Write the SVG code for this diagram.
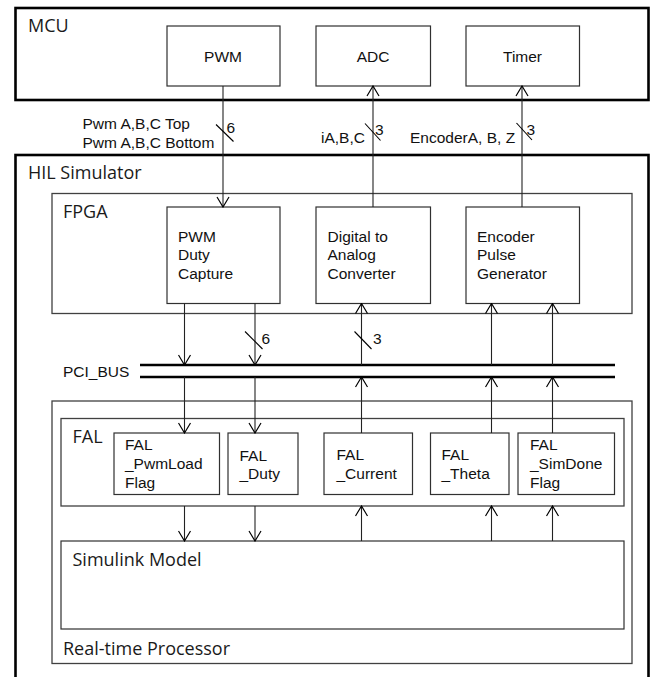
<svg xmlns="http://www.w3.org/2000/svg" width="653" height="677" viewBox="0 0 653 677">
<style>
.outer{fill:none;stroke:#000;stroke-width:2.6}
.cont{fill:none;stroke:#404040;stroke-width:1.3}
.box{fill:#fff;stroke:#303030;stroke-width:1.2}
.big{font-family:"Open Sans","Noto Sans",sans-serif;font-size:18px;fill:#1a1a1a}
.t{font-family:"Liberation Sans",Arial,sans-serif;font-size:15.5px;fill:#111}
.c{text-anchor:middle}
.ln{fill:none;stroke:#222;stroke-width:1.1}
.bus{fill:none;stroke:#000;stroke-width:2.6}
.sl{fill:none;stroke:#000;stroke-width:1.1}
</style>
<defs>
<marker id="arr" viewBox="0 0 12 14" refX="11" refY="7" markerWidth="12" markerHeight="14" markerUnits="userSpaceOnUse" orient="auto">
<path d="M1,1 L11,7 L1,13" fill="none" stroke="#000" stroke-width="1.2"/>
</marker>
</defs>
<rect width="653" height="677" fill="#fff"/>

<g id="mcu">
<rect class="outer" x="15.5" y="8" width="633" height="92"/>
<text class="big" x="28" y="32">MCU</text>
</g>
<g id="pwm">
<rect class="box" x="167" y="26" width="113" height="60"/>
<text class="t c" x="223" y="62">PWM</text>
</g>
<g id="adc">
<rect class="box" x="316" y="26" width="114.5" height="60"/>
<text class="t c" x="373" y="62">ADC</text>
</g>
<g id="timer">
<rect class="box" x="466" y="26" width="113.5" height="60"/>
<text class="t c" x="522.5" y="62">Timer</text>
</g>

<g id="hil">
<rect class="outer" x="15.5" y="155" width="633" height="540"/>
<text class="big" x="28" y="179">HIL Simulator</text>
</g>
<g id="fpga">
<rect class="cont" x="52" y="193.5" width="580" height="120"/>
<text class="big" x="63" y="218">FPGA</text>
</g>
<g id="pwm-duty-capture">
<rect class="box" x="167" y="207" width="113" height="96.5"/>
<text class="t" x="178" y="241.5">PWM</text>
<text class="t" x="178" y="260">Duty</text>
<text class="t" x="178" y="278.5">Capture</text>
</g>
<g id="dac">
<rect class="box" x="316" y="207" width="114.5" height="96.5"/>
<text class="t" x="327.5" y="241.5">Digital to</text>
<text class="t" x="327.5" y="260">Analog</text>
<text class="t" x="327.5" y="278.5">Converter</text>
</g>
<g id="encoder-pulse-generator">
<rect class="box" x="466" y="207" width="113.5" height="96.5"/>
<text class="t" x="477" y="241.5">Encoder</text>
<text class="t" x="477" y="260">Pulse</text>
<text class="t" x="477" y="278.5">Generator</text>
</g>

<g id="pci-bus">
<text class="t" x="63" y="377">PCI_BUS</text>
<line class="bus" x1="140" y1="365" x2="615" y2="365"/>
<line class="bus" x1="140" y1="377" x2="615" y2="377"/>
</g>

<g id="real-time-processor">
<rect class="cont" x="52" y="401" width="580" height="262.5"/>
<text class="big" x="63" y="655">Real-time Processor</text>
</g>
<g id="fal">
<rect class="cont" x="61" y="418.5" width="563" height="87.5"/>
<text class="big" x="72.5" y="443">FAL</text>
</g>
<g id="fal-pwmload-flag">
<rect class="box" x="114" y="433" width="105.5" height="61.5"/>
<text class="t" x="125" y="450">FAL</text>
<text class="t" x="125" y="469.3">_PwmLoad</text>
<text class="t" x="125" y="488.3">Flag</text>
</g>
<g id="fal-duty">
<rect class="box" x="228" y="433" width="70" height="61.5"/>
<text class="t" x="239.5" y="461">FAL</text>
<text class="t" x="239.5" y="478.5">_Duty</text>
</g>
<g id="fal-current">
<rect class="box" x="324" y="433" width="88.5" height="61.5"/>
<text class="t" x="336.5" y="460">FAL</text>
<text class="t" x="336.5" y="478.5">_Current</text>
</g>
<g id="fal-theta">
<rect class="box" x="430.5" y="433" width="78.5" height="61.5"/>
<text class="t" x="441.5" y="460">FAL</text>
<text class="t" x="441.5" y="478.5">_Theta</text>
</g>
<g id="fal-simdone-flag">
<rect class="box" x="518" y="433" width="96.5" height="61.5"/>
<text class="t" x="530" y="450">FAL</text>
<text class="t" x="530" y="469.3">_SimDone</text>
<text class="t" x="530" y="488.3">Flag</text>
</g>
<g id="simulink-model">
<rect class="box" x="61" y="541" width="563" height="88"/>
<text class="big" x="72.5" y="566">Simulink Model</text>
</g>

<g id="connectors">
<line class="ln" x1="223" y1="86" x2="223" y2="207" marker-end="url(#arr)"/>
<line class="ln" x1="373" y1="207" x2="373" y2="86" marker-end="url(#arr)"/>
<line class="ln" x1="522" y1="207" x2="522" y2="86" marker-end="url(#arr)"/>
<line class="ln" x1="184.5" y1="303.5" x2="184.5" y2="365" marker-end="url(#arr)"/>
<line class="ln" x1="255" y1="303.5" x2="255" y2="365" marker-end="url(#arr)"/>
<line class="ln" x1="361.5" y1="365" x2="361.5" y2="303.5" marker-end="url(#arr)"/>
<line class="ln" x1="491.5" y1="365" x2="491.5" y2="303.5" marker-end="url(#arr)"/>
<line class="ln" x1="552.5" y1="365" x2="552.5" y2="303.5" marker-end="url(#arr)"/>
<line class="ln" x1="184.5" y1="377" x2="184.5" y2="433" marker-end="url(#arr)"/>
<line class="ln" x1="255" y1="377" x2="255" y2="433" marker-end="url(#arr)"/>
<line class="ln" x1="361.5" y1="433" x2="361.5" y2="377" marker-end="url(#arr)"/>
<line class="ln" x1="491.5" y1="433" x2="491.5" y2="377" marker-end="url(#arr)"/>
<line class="ln" x1="552.5" y1="433" x2="552.5" y2="377" marker-end="url(#arr)"/>
<line class="ln" x1="184.5" y1="506" x2="184.5" y2="541" marker-end="url(#arr)"/>
<line class="ln" x1="255" y1="506" x2="255" y2="541" marker-end="url(#arr)"/>
<line class="ln" x1="361.5" y1="541" x2="361.5" y2="506" marker-end="url(#arr)"/>
<line class="ln" x1="491.5" y1="541" x2="491.5" y2="506" marker-end="url(#arr)"/>
<line class="ln" x1="552.5" y1="541" x2="552.5" y2="506" marker-end="url(#arr)"/>
<line class="sl" x1="216" y1="124.5" x2="233.5" y2="141.5"/>
<line class="sl" x1="365" y1="123.5" x2="380.5" y2="140.5"/>
<line class="sl" x1="516.5" y1="123" x2="532" y2="140"/>
<line class="sl" x1="245" y1="331.5" x2="262.5" y2="349"/>
<line class="sl" x1="354.5" y1="331.5" x2="371.5" y2="349"/>
<text class="t" x="82.5" y="129">Pwm A,B,C Top</text>
<text class="t" x="82.5" y="147.5">Pwm A,B,C Bottom</text>
<text class="t" x="226.5" y="133">6</text>
<text class="t" x="321" y="143">iA,B,C</text>
<text class="t" x="375" y="135">3</text>
<text class="t" x="410" y="143">EncoderA, B, Z</text>
<text class="t" x="526.5" y="135">3</text>
<text class="t" x="261.5" y="344">6</text>
<text class="t" x="373" y="344">3</text>
</g>
</svg>
